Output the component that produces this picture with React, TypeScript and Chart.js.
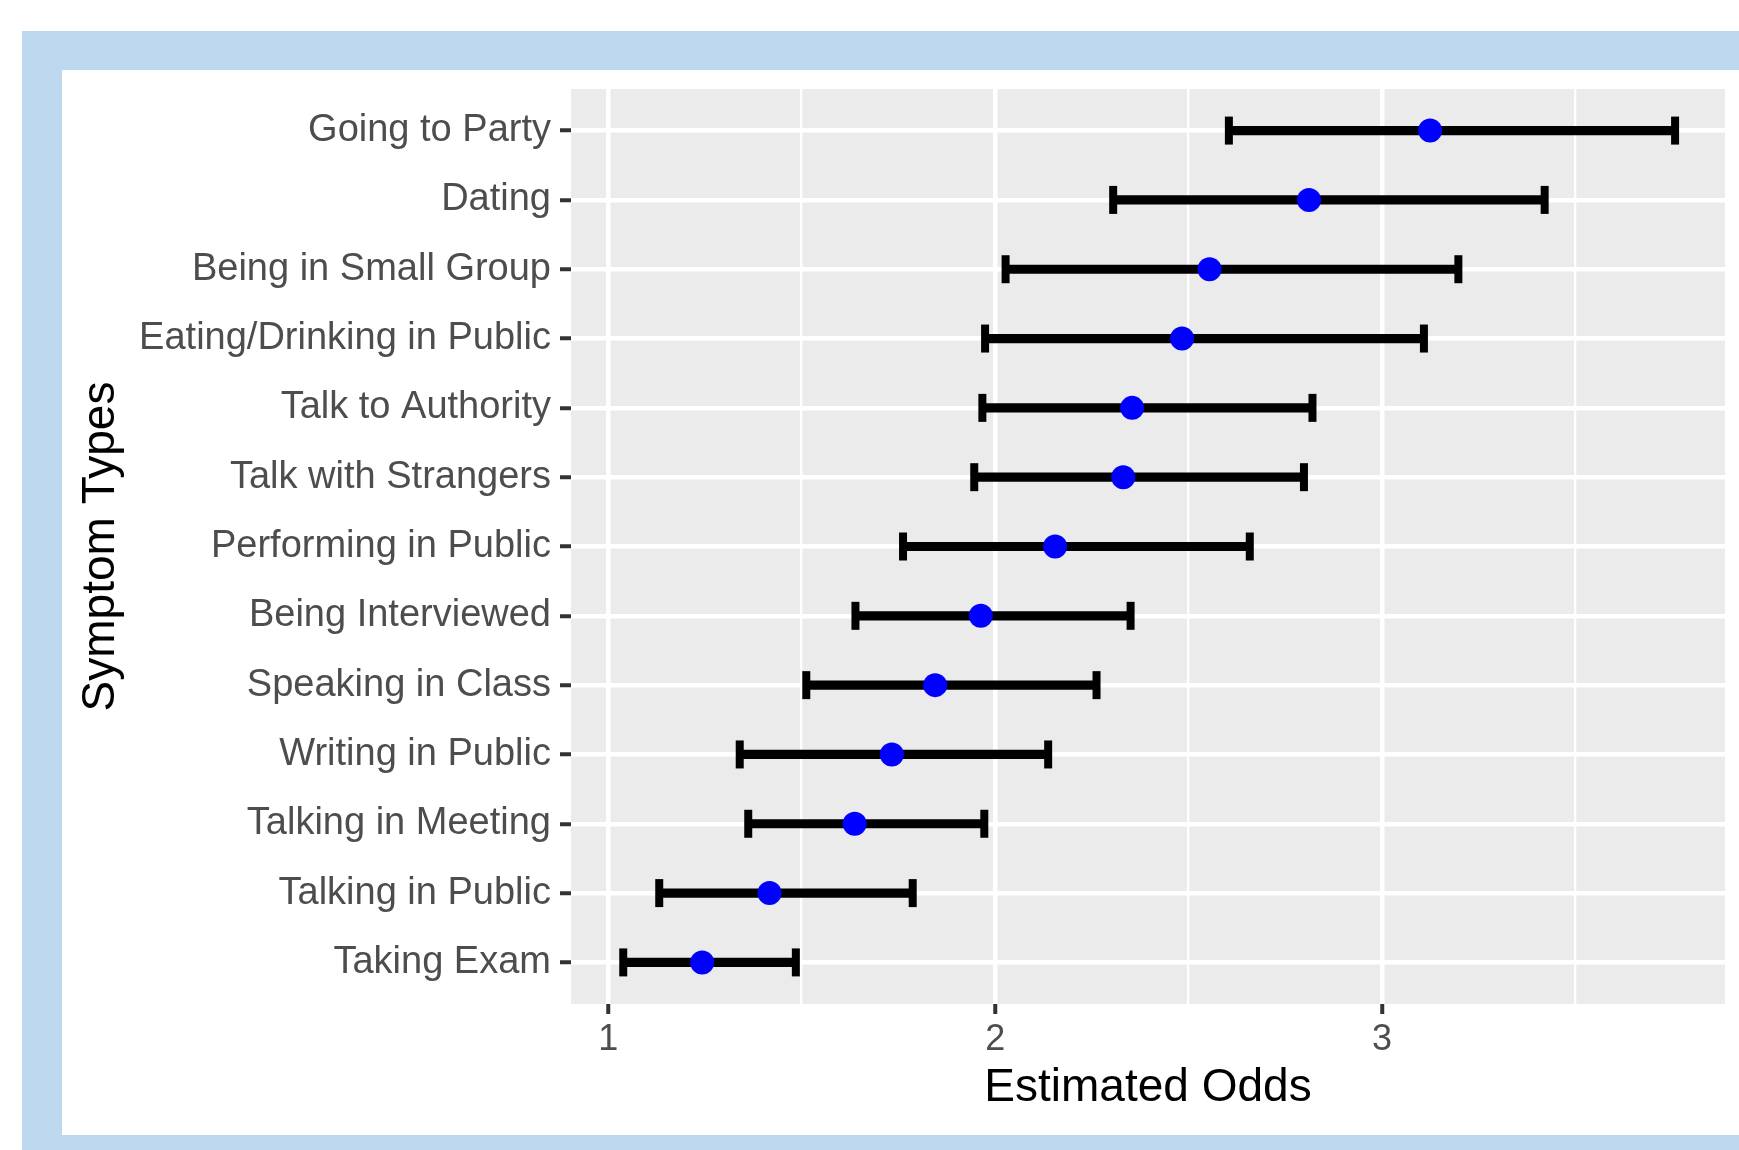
import React, { useEffect, useRef } from "react";
import { Chart, registerables } from "chart.js";

Chart.register(...registerables);

// ---- Data (top row to bottom row) ----
const categories = [
  "Going to Party",
  "Dating",
  "Being in Small Group",
  "Eating/Drinking in Public",
  "Talk to Authority",
  "Talk with Strangers",
  "Performing in Public",
  "Being Interviewed",
  "Speaking in Class",
  "Writing in Public",
  "Talking in Meeting",
  "Talking in Public",
  "Taking Exam",
];
const estimates = [3.124, 2.811, 2.554, 2.483, 2.354, 2.331, 2.155, 1.963, 1.845, 1.733, 1.637, 1.417, 1.243];
const lowerCI = [2.604, 2.305, 2.027, 1.974, 1.967, 1.946, 1.762, 1.639, 1.512, 1.340, 1.362, 1.132, 1.039];
const upperCI = [3.757, 3.420, 3.197, 3.108, 2.820, 2.798, 2.658, 2.350, 2.262, 2.137, 1.972, 1.787, 1.485];

const xTickValues = [1, 1.5, 2, 2.5, 3, 3.5];
const xMajorTicks = [1, 2, 3];
const xAxisTitle = "Estimated Odds";
const yAxisTitle = "Symptom Types";

const FONT = "'Liberation Sans', Arial, sans-serif";

const panelBackground = {
  id: "panelBackground",
  beforeDraw(chart: any) {
    const { ctx, chartArea: a } = chart;
    ctx.save();
    ctx.fillStyle = "#EBEBEB";
    ctx.fillRect(a.left, a.top, a.right - a.left, a.bottom - a.top);
    ctx.restore();
  },
};

const isMajor = (v: number) => xMajorTicks.includes(v);

export default function App() {
  const ref = useRef<HTMLCanvasElement>(null);

  useEffect(() => {
    if (!ref.current) return;
    const chart = new Chart(ref.current, {
      type: "scatter",
      data: {
        datasets: [
          {
            type: "bar",
            label: "CI",
            indexAxis: "y",
            data: categories.map((_, i) => ({ x: [lowerCI[i], upperCI[i]], y: i })),
            backgroundColor: "#000000",
            borderWidth: 0,
            barThickness: 8.5,
            order: 3,
          } as any,
          {
            type: "scatter",
            label: "lower",
            data: categories.map((_, i) => ({ x: lowerCI[i], y: i })),
            pointStyle: "line",
            rotation: 90,
            radius: 14,
            borderWidth: 8,
            borderColor: "#000000",
            order: 2,
          } as any,
          {
            type: "scatter",
            label: "upper",
            data: categories.map((_, i) => ({ x: upperCI[i], y: i })),
            pointStyle: "line",
            rotation: 90,
            radius: 14,
            borderWidth: 8,
            borderColor: "#000000",
            order: 2,
          } as any,
          {
            type: "scatter",
            label: "estimate",
            data: categories.map((_, i) => ({ x: estimates[i], y: i })),
            pointStyle: "circle",
            radius: 12,
            backgroundColor: "#0000FF",
            borderWidth: 0,
            order: 1,
          } as any,
        ],
      },
      options: {
        responsive: false,
        animation: false,
        devicePixelRatio: 1,
        events: [],
        layout: { autoPadding: false, padding: { left: 0, top: 19, right: 14, bottom: 0 } },
        plugins: {
          legend: { display: false },
          tooltip: { enabled: false },
        },
        scales: {
          x: {
            type: "linear",
            min: 0.904,
            max: 3.886,
            offset: false,
            afterBuildTicks: (s: any) => {
              s.ticks = xTickValues.map((v) => ({ value: v }));
            },
            afterFit: (s: any) => {
              s.height = 131;
              s.paddingLeft = 0;
              s.paddingRight = 0;
            },
            grid: {
              offset: false,
              color: "#FFFFFF",
              lineWidth: (c: any) => (c.tick && isMajor(c.tick.value) ? 4.5 : 2.3),
              tickColor: (c: any) => (c.tick && isMajor(c.tick.value) ? "#333333" : "rgba(0,0,0,0)"),
              tickWidth: 4,
              tickLength: 10,
            },
            border: { display: false },
            ticks: {
              autoSkip: false,
              maxRotation: 0,
              padding: 4,
              color: "#4D4D4D",
              font: { family: FONT, size: 36 },
              callback: (v: any) => (isMajor(Number(v)) ? String(v) : ""),
            },
            title: {
              display: true,
              text: xAxisTitle,
              color: "#000000",
              font: { family: FONT, size: 46 },
              padding: { top: 0, bottom: 19 },
            },
          } as any,
          y: {
            type: "linear",
            min: -0.6,
            max: 12.6,
            reverse: true,
            offset: false,
            afterBuildTicks: (s: any) => {
              s.ticks = categories.map((_, i) => ({ value: i }));
            },
            afterFit: (s: any) => {
              s.width = 509;
              s.paddingTop = 0;
              s.paddingBottom = 0;
            },
            grid: {
              offset: false,
              color: "#FFFFFF",
              lineWidth: 4.5,
              tickColor: "#333333",
              tickWidth: 4,
              tickLength: 11,
            },
            border: { display: false },
            ticks: {
              autoSkip: false,
              padding: 9,
              color: "#4D4D4D",
              font: { family: FONT, size: 38 },
              callback: (v: any) => categories[Number(v)] ?? "",
            },
            title: {
              display: true,
              text: yAxisTitle,
              color: "#000000",
              font: { family: FONT, size: 46 },
              padding: { top: 12, bottom: 0 },
            },
          } as any,
        },
      },
      plugins: [panelBackground],
    } as any);
    return () => chart.destroy();
  }, []);

  return (
    <div style={{ position: "absolute", left: 0, top: 0, width: 1739, height: 1150, background: "#FFFFFF", overflow: "hidden" }}>
      <div style={{ position: "absolute", left: 22, top: 31, width: 1717, height: 1119, background: "#BDD7EE" }} />
      <div style={{ position: "absolute", left: 62, top: 70, width: 1677, height: 1065, background: "#FFFFFF" }}>
        <canvas ref={ref} width={1677} height={1065} style={{ display: "block", width: 1677, height: 1065 }} />
      </div>
    </div>
  );
}
